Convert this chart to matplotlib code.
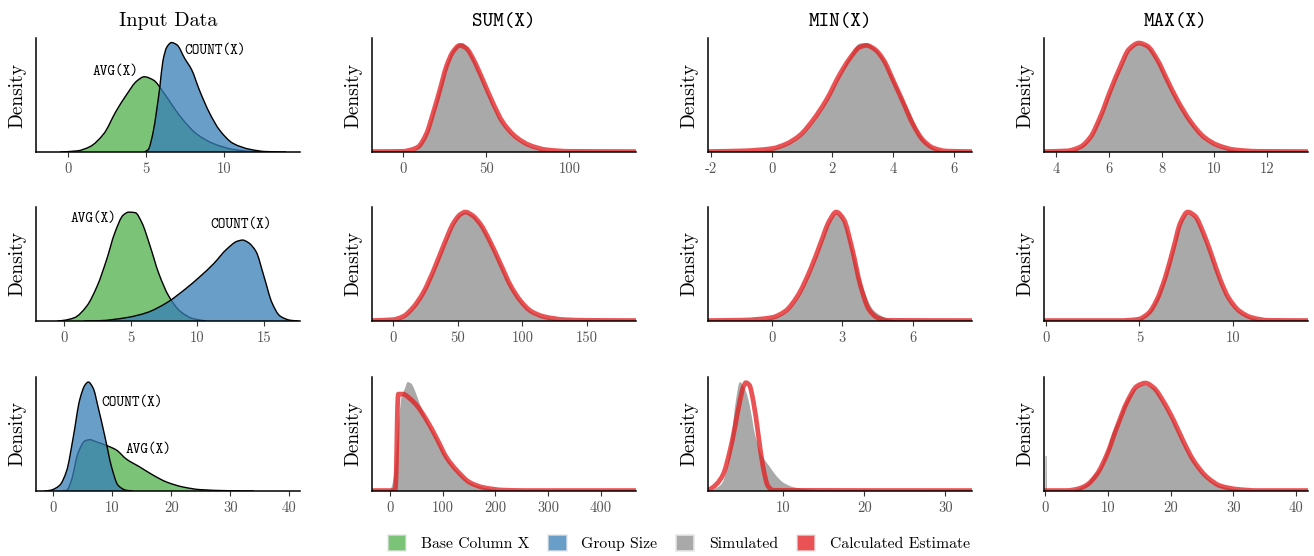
import numpy as np
import matplotlib
matplotlib.use("Agg")
import matplotlib.pyplot as plt
from matplotlib.patches import Patch, PathPatch
from matplotlib.path import Path

plt.rcParams["font.family"] = ["cmr10", "DejaVu Serif"]
plt.rcParams["axes.unicode_minus"] = False
plt.rcParams["axes.formatter.use_mathtext"] = True

# ---------------------------------------------------------------- data
# y values are densities, scaled to the panel height (1 = top)

# Input Data, row 1
IN1_AVG_X = [-0.5, 0.6, 1.4, 2.3, 3.1, 3.8, 4.4, 4.9, 5.5, 6.1, 6.75, 7.4, 8.25, 9.3, 10.6, 11.9, 13]
IN1_AVG_Y = [0, 0.01, 0.046, 0.16, 0.36, 0.51, 0.62, 0.66, 0.63, 0.53, 0.40, 0.28, 0.16, 0.076, 0.023, 0.004, 0]
IN1_CNT_X = [4.9, 5.15, 5.45, 5.7, 5.9, 6.1, 6.35, 6.65, 7.0, 7.5, 7.95, 8.45, 9.1, 9.75, 10.6, 11.7, 12.7, 14]
IN1_CNT_Y = [0, 0.02, 0.16, 0.37, 0.57, 0.80, 0.92, 0.96, 0.94, 0.82, 0.72, 0.54, 0.34, 0.19, 0.076, 0.023, 0.004, 0]

# Input Data, row 2
IN2_AVG_X = [-0.5, 0.0, 0.8, 1.7, 2.5, 3.2, 3.8, 4.45, 4.85, 5.35, 5.85, 6.45, 7.1, 7.85, 8.7, 9.7, 10.7]
IN2_AVG_Y = [0, 0.006, 0.03, 0.13, 0.31, 0.54, 0.77, 0.93, 0.955, 0.95, 0.86, 0.66, 0.42, 0.22, 0.087, 0.02, 0]
IN2_CNT_X = [1.5, 2.7, 4.7, 6.2, 7.7, 9.2, 10.2, 11.2, 12.2, 13.0, 13.4, 13.8, 14.4, 15.0, 15.6, 16.2, 17.0, 17.6]
IN2_CNT_Y = [0, 0.003, 0.03, 0.073, 0.16, 0.29, 0.39, 0.50, 0.63, 0.70, 0.71, 0.69, 0.61, 0.39, 0.16, 0.044, 0.006, 0]

# Input Data, row 3
IN3_AVG_X = [1.5, 2.3, 3.1, 4.2, 5.4, 6.2, 7.4, 9.0, 10.7, 12.4, 14.7, 17.0, 19.2, 22.0, 24.9, 29.4, 34]
IN3_AVG_Y = [0, 0.006, 0.094, 0.33, 0.44, 0.45, 0.43, 0.40, 0.36, 0.28, 0.21, 0.137, 0.079, 0.035, 0.012, 0.003, 0]
IN3_CNT_X = [-1.5, -0.5, 1.1, 2.3, 3.4, 4.5, 5.4, 5.95, 6.8, 7.6, 8.8, 9.9, 11.0, 12.4, 13.5]
IN3_CNT_Y = [0, 0.006, 0.05, 0.18, 0.47, 0.80, 0.93, 0.956, 0.90, 0.74, 0.47, 0.21, 0.05, 0.006, 0]

# SUM(X)
SUM1_SIM_X = [6, 9, 14, 18, 22, 26, 30, 34, 36, 38, 42, 48, 54, 60, 68, 76, 84, 92]
SUM1_SIM_Y = [0, 0.04, 0.15, 0.33, 0.54, 0.75, 0.89, 0.95, 0.955, 0.93, 0.83, 0.63, 0.42, 0.25, 0.12, 0.05, 0.015, 0]
SUM1_EST_X = [-18.7, 0, 5, 9, 14, 18, 22, 26, 30, 34, 38, 42, 48, 54, 60, 68, 76, 86, 100, 140]
SUM1_EST_Y = [0.004, 0.006, 0.02, 0.045, 0.16, 0.34, 0.54, 0.75, 0.88, 0.935, 0.91, 0.82, 0.63, 0.43, 0.26, 0.13, 0.06, 0.02, 0.006, 0.004]

SUM2_SIM_X = [2, 8, 15.6, 23.4, 31.2, 39, 46.8, 52, 56, 61, 67.6, 75.4, 83.2, 91, 98.8, 106.6, 117, 128, 140]
SUM2_SIM_Y = [0, 0.03, 0.11, 0.24, 0.43, 0.65, 0.85, 0.93, 0.95, 0.93, 0.85, 0.69, 0.50, 0.31, 0.17, 0.08, 0.03, 0.008, 0]
SUM2_EST_X = [-16.3, 0, 7.8, 15.6, 23.4, 31.2, 39, 46.8, 52, 56, 61, 67.6, 75.4, 83.2, 91, 98.8, 106.6, 117, 132.6, 150, 188]
SUM2_EST_Y = [0.004, 0.012, 0.04, 0.12, 0.25, 0.44, 0.66, 0.86, 0.935, 0.956, 0.93, 0.85, 0.69, 0.50, 0.31, 0.175, 0.087, 0.038, 0.012, 0.006, 0.004]

SUM3_SIM_X = [0, 3, 9.5, 16, 22, 28.6, 33.7, 41, 47.6, 57, 70, 89, 108, 127, 152, 178, 216, 250]
SUM3_SIM_Y = [0, 0.03, 0.18, 0.56, 0.82, 0.90, 0.956, 0.94, 0.88, 0.76, 0.62, 0.46, 0.29, 0.175, 0.07, 0.028, 0.006, 0]
SUM3_EST_X = [-34, 9.5, 11, 13, 14.5, 15.9, 25, 38, 51, 70, 89, 108, 127, 152, 178, 216, 260, 467]
SUM3_EST_Y = [0.004, 0.004, 0.05, 0.40, 0.75, 0.85, 0.85, 0.81, 0.75, 0.62, 0.46, 0.29, 0.18, 0.074, 0.03, 0.008, 0.004, 0.004]

# MIN(X)
MIN1_SIM_X = [-0.5, 0, 0.47, 0.92, 1.36, 1.8, 2.24, 2.57, 2.9, 3.12, 3.4, 3.68, 4.0, 4.34, 4.67, 4.9, 5.1, 5.44, 5.8]
MIN1_SIM_Y = [0, 0.02, 0.06, 0.13, 0.26, 0.44, 0.67, 0.83, 0.95, 0.955, 0.91, 0.82, 0.65, 0.46, 0.28, 0.15, 0.08, 0.02, 0]
MIN1_EST_X = [-2.1, -0.96, 0, 0.47, 0.92, 1.36, 1.8, 2.24, 2.57, 2.9, 3.12, 3.4, 3.68, 4.0, 4.34, 4.67, 5.0, 5.33, 5.77, 6.6]
MIN1_EST_Y = [0.004, 0.01, 0.03, 0.07, 0.145, 0.28, 0.456, 0.68, 0.82, 0.92, 0.935, 0.90, 0.81, 0.63, 0.43, 0.235, 0.10, 0.035, 0.008, 0.004]

MIN2_SIM_X = [-0.5, 0, 0.57, 1.1, 1.64, 2.08, 2.44, 2.74, 3.06, 3.42, 3.77, 3.95, 4.3, 4.66, 5.0, 5.4]
MIN2_SIM_Y = [0, 0.02, 0.07, 0.20, 0.43, 0.67, 0.86, 0.94, 0.88, 0.64, 0.36, 0.25, 0.10, 0.044, 0.015, 0]
MIN2_EST_X = [-2.7, -1.2, 0, 0.57, 1.1, 1.64, 2.08, 2.44, 2.74, 3.06, 3.42, 3.77, 4.13, 4.48, 4.93, 8.5]
MIN2_EST_Y = [0.004, 0.008, 0.03, 0.085, 0.22, 0.45, 0.685, 0.875, 0.956, 0.89, 0.63, 0.31, 0.10, 0.03, 0.006, 0.004]

MIN3_SIM_X = [1.2, 1.5, 2.37, 3.0, 3.6, 4.14, 4.64, 5.13, 5.55, 5.96, 6.5, 7.3, 8.35, 9.17, 10.0, 11.2, 12.9, 15.4, 18]
MIN3_SIM_Y = [0, 0.015, 0.06, 0.18, 0.47, 0.79, 0.956, 0.91, 0.84, 0.71, 0.50, 0.32, 0.21, 0.13, 0.074, 0.035, 0.015, 0.006, 0]
MIN3_EST_X = [0.7, 0.93, 1.75, 2.58, 3.4, 4.02, 4.64, 5.05, 5.38, 5.8, 6.29, 6.9, 7.5, 8.1, 8.76, 33.3]
MIN3_EST_Y = [0.008, 0.015, 0.06, 0.147, 0.35, 0.56, 0.79, 0.91, 0.95, 0.93, 0.79, 0.50, 0.21, 0.044, 0.006, 0.004]

# MAX(X)
MAX1_SIM_X = [4.5, 4.92, 5.3, 5.68, 6.06, 6.44, 6.76, 7.14, 7.46, 7.84, 8.22, 8.6, 9.11, 9.62, 10.13, 10.77, 11.4]
MAX1_SIM_Y = [0, 0.04, 0.12, 0.30, 0.53, 0.74, 0.89, 0.95, 0.93, 0.81, 0.63, 0.45, 0.26, 0.12, 0.05, 0.015, 0]
MAX1_EST_X = [3.54, 4.41, 4.92, 5.3, 5.68, 6.06, 6.44, 6.76, 7.14, 7.46, 7.84, 8.22, 8.6, 9.11, 9.62, 10.13, 10.77, 11.66, 13.56]
MAX1_EST_Y = [0.004, 0.01, 0.045, 0.13, 0.31, 0.54, 0.75, 0.90, 0.956, 0.93, 0.81, 0.63, 0.456, 0.265, 0.13, 0.06, 0.02, 0.006, 0.004]

MAX2_SIM_X = [4.8, 5.2, 5.49, 5.94, 6.39, 6.84, 7.18, 7.58, 7.97, 8.42, 8.87, 9.32, 9.77, 10.34, 11.0, 11.6]
MAX2_SIM_Y = [0, 0.03, 0.07, 0.19, 0.39, 0.65, 0.85, 0.94, 0.91, 0.76, 0.56, 0.35, 0.19, 0.08, 0.025, 0]
MAX2_EST_X = [-0.1, 4.0, 4.92, 5.49, 5.94, 6.39, 6.84, 7.18, 7.58, 7.97, 8.42, 8.87, 9.32, 9.77, 10.34, 11.0, 11.9, 14.0]
MAX2_EST_Y = [0.004, 0.004, 0.015, 0.07, 0.19, 0.39, 0.656, 0.86, 0.956, 0.92, 0.77, 0.57, 0.36, 0.20, 0.087, 0.03, 0.006, 0.004]

MAX3_SIM_X = [0, 0.2, 0.25, 4.0, 5.0, 6.7, 7.7, 8.8, 9.9, 10.9, 11.7, 13.0, 14.7, 15.7, 17.33, 18.93, 20.5, 22.1, 23.7, 25.9, 28.0, 30.7, 34]
MAX3_SIM_Y = [0.31, 0.31, 0, 0, 0.015, 0.06, 0.13, 0.2, 0.35, 0.53, 0.62, 0.79, 0.91, 0.93, 0.90, 0.77, 0.61, 0.42, 0.26, 0.11, 0.04, 0.012, 0]
MAX3_EST_X = [-0.15, 3.47, 5.33, 6.67, 8.27, 9.87, 11.47, 13.07, 14.67, 16.0, 17.33, 18.93, 20.5, 22.1, 23.7, 25.9, 28.0, 30.7, 33.9, 41.9]
MAX3_EST_Y = [0.004, 0.004, 0.02, 0.053, 0.147, 0.32, 0.56, 0.78, 0.92, 0.947, 0.906, 0.78, 0.62, 0.43, 0.265, 0.118, 0.044, 0.015, 0.004, 0.004]

COL_TITLES = ["Input Data", "SUM(X)", "MIN(X)", "MAX(X)"]
LEGEND_LABELS = ["Base Column X", "Group Size", "Simulated", "Calculated Estimate"]

# x axis limits / ticks per panel (row, col)
XLIMS = [[(-2.05, 14.9), (-18.7, 140), (-2.1, 6.6), (3.54, 13.56)],
         [(-2.1, 17.7), (-16.3, 188), (-2.7, 8.5), (-0.1, 14.0)],
         [(-2.9, 41.8), (-34, 467), (0.7, 33.3), (-0.15, 41.9)]]
XTICKS = [[[0, 5, 10], [0, 50, 100], [-2, 0, 2, 4, 6], [4, 6, 8, 10, 12]],
          [[0, 5, 10, 15], [0, 50, 100, 150], [0, 3, 6], [0, 5, 10]],
          [[0, 10, 20, 30, 40], [0, 100, 200, 300, 400], [10, 20, 30], [0, 10, 20, 30, 40]]]

INPUTS = [(IN1_AVG_X, IN1_AVG_Y, IN1_CNT_X, IN1_CNT_Y),
          (IN2_AVG_X, IN2_AVG_Y, IN2_CNT_X, IN2_CNT_Y),
          (IN3_AVG_X, IN3_AVG_Y, IN3_CNT_X, IN3_CNT_Y)]
AVG_LABEL = [(4.5, 0.70, "right"), (3.96, 0.895, "right"), (12.2, 0.357, "left")]
CNT_LABEL = [(7.5, 0.89, "left"), (13.3, 0.84, "center"), (8.1, 0.77, "left")]

SIMS = [[(SUM1_SIM_X, SUM1_SIM_Y, SUM1_EST_X, SUM1_EST_Y),
         (MIN1_SIM_X, MIN1_SIM_Y, MIN1_EST_X, MIN1_EST_Y),
         (MAX1_SIM_X, MAX1_SIM_Y, MAX1_EST_X, MAX1_EST_Y)],
        [(SUM2_SIM_X, SUM2_SIM_Y, SUM2_EST_X, SUM2_EST_Y),
         (MIN2_SIM_X, MIN2_SIM_Y, MIN2_EST_X, MIN2_EST_Y),
         (MAX2_SIM_X, MAX2_SIM_Y, MAX2_EST_X, MAX2_EST_Y)],
        [(SUM3_SIM_X, SUM3_SIM_Y, SUM3_EST_X, SUM3_EST_Y),
         (MIN3_SIM_X, MIN3_SIM_Y, MIN3_EST_X, MIN3_EST_Y),
         (MAX3_SIM_X, MAX3_SIM_Y, MAX3_EST_X, MAX3_EST_Y)]]

# ---------------------------------------------------------------- style
GREEN, BLUE, RED, GREY = "#4DAF4A", "#377EB8", "#E41A1C", "#A9A9A9"
ALPHA = 0.75
W_PX, H_PX = 1314, 556
COL_LEFT = [36, 372, 708, 1044]
ROW_TOP = [38, 207, 377]
AX_W, AX_H = 264, 114


def curve_path(x, y, close=False):
    """Monotone cubic (Fritsch-Carlson) drawn as Bezier segments through the read points."""
    x = np.asarray(x, float); y = np.asarray(y, float)
    h = np.diff(x)
    d = np.diff(y) / np.where(h == 0, 1e-9, h)
    m = np.zeros_like(y)
    m[0], m[-1] = d[0], d[-1]
    for i in range(1, len(y) - 1):
        if d[i - 1] * d[i] > 0:
            w1, w2 = 2 * h[i] + h[i - 1], h[i] + 2 * h[i - 1]
            m[i] = (w1 + w2) / (w1 / d[i - 1] + w2 / d[i])
    verts = [(x[0], y[0])]
    codes = [Path.MOVETO]
    for i in range(len(h)):
        verts += [(x[i] + h[i] / 3, y[i] + m[i] * h[i] / 3),
                  (x[i + 1] - h[i] / 3, y[i + 1] - m[i + 1] * h[i] / 3),
                  (x[i + 1], y[i + 1])]
        codes += [Path.CURVE4] * 3
    if close:
        verts += [(x[-1], 0), (x[0], 0), (x[0], y[0])]
        codes += [Path.LINETO, Path.LINETO, Path.CLOSEPOLY]
    return Path(verts, codes)


def add_curve(ax, x, y, **kw):
    ax.add_patch(PathPatch(curve_path(x, y), fill=False, **kw))


def add_area(ax, x, y, **kw):
    ax.add_patch(PathPatch(curve_path(x, y, close=True), **kw))


fig = plt.figure(figsize=(W_PX / 100, H_PX / 100), dpi=100)


def style_axes(ax, r, c):
    ax.set_xlim(*XLIMS[r][c])
    ax.set_ylim(0, 1)
    for s in ("top", "right"):
        ax.spines[s].set_visible(False)
    for s in ("left", "bottom"):
        ax.spines[s].set_linewidth(1.1)
        ax.spines[s].set_color("black")
        ax.spines[s].set_zorder(5)
    ax.set_yticks([])
    ticks = XTICKS[r][c]
    ax.set_xticks(ticks)
    ax.set_xticklabels([str(t) for t in ticks])
    ax.tick_params(axis="x", length=3.5, width=0.8, color="#333333",
                   labelcolor="#555555", labelsize=10.5, pad=4)
    ax.set_ylabel("Density", fontsize=14)
    ax.yaxis.set_label_coords(-0.036, 0.5)


for r in range(3):
    for c in range(4):
        left = COL_LEFT[c] / W_PX
        bottom = 1 - (ROW_TOP[r] + AX_H) / H_PX
        ax = fig.add_axes([left, bottom, AX_W / W_PX, AX_H / H_PX])
        style_axes(ax, r, c)
        if r == 0:
            fam = ["cmr10"] if c == 0 else ["cmtt10"]
            ax.set_title(COL_TITLES[c], fontsize=14.5, pad=9, family=fam)
        if c == 0:
            ax_, ay_, cx_, cy_ = INPUTS[r]
            add_area(ax, ax_, ay_, facecolor=GREEN, alpha=ALPHA, lw=0, zorder=2)
            add_curve(ax, ax_, ay_, edgecolor="black", lw=1.0, zorder=2.1)
            add_area(ax, cx_, cy_, facecolor=BLUE, alpha=ALPHA, lw=0, zorder=3)
            add_curve(ax, cx_, cy_, edgecolor="black", lw=1.0, zorder=3.1)
            x, y, ha = AVG_LABEL[r]
            ax.text(x, y, "AVG(X)", ha=ha, va="center", family=["cmtt10"], fontsize=10.5)
            x, y, ha = CNT_LABEL[r]
            ax.text(x, y, "COUNT(X)", ha=ha, va="center", family=["cmtt10"], fontsize=10.5)
        else:
            sx, sy, ex, ey = SIMS[r][c - 1]
            if c == 3 and r == 2:
                # narrow spike at zero: keep its straight edges
                ax.fill_between(sx[:3], sy[:3], color=GREY, lw=0, zorder=2)
                add_area(ax, sx[3:], sy[3:], facecolor=GREY, lw=0, zorder=2)
            else:
                add_area(ax, sx, sy, facecolor=GREY, lw=0, zorder=2)
            add_curve(ax, ex, ey, edgecolor=RED, alpha=ALPHA, lw=3.4, zorder=3,
                      joinstyle="round", capstyle="butt")

handles = [Patch(facecolor=col, alpha=ALPHA if col != GREY else 1.0,
                 edgecolor="#e6e6e6", linewidth=1.2) for col in (GREEN, BLUE, GREY, RED)]
fig.legend(handles, LEGEND_LABELS, loc="center", ncol=4, frameon=False,
           bbox_to_anchor=(679 / W_PX, 1 - 543 / H_PX), fontsize=11.3,
           handlelength=1.2, handleheight=1.2, handletextpad=0.95,
           columnspacing=1.15)

fig.savefig("out.png", dpi=100, facecolor="white")
